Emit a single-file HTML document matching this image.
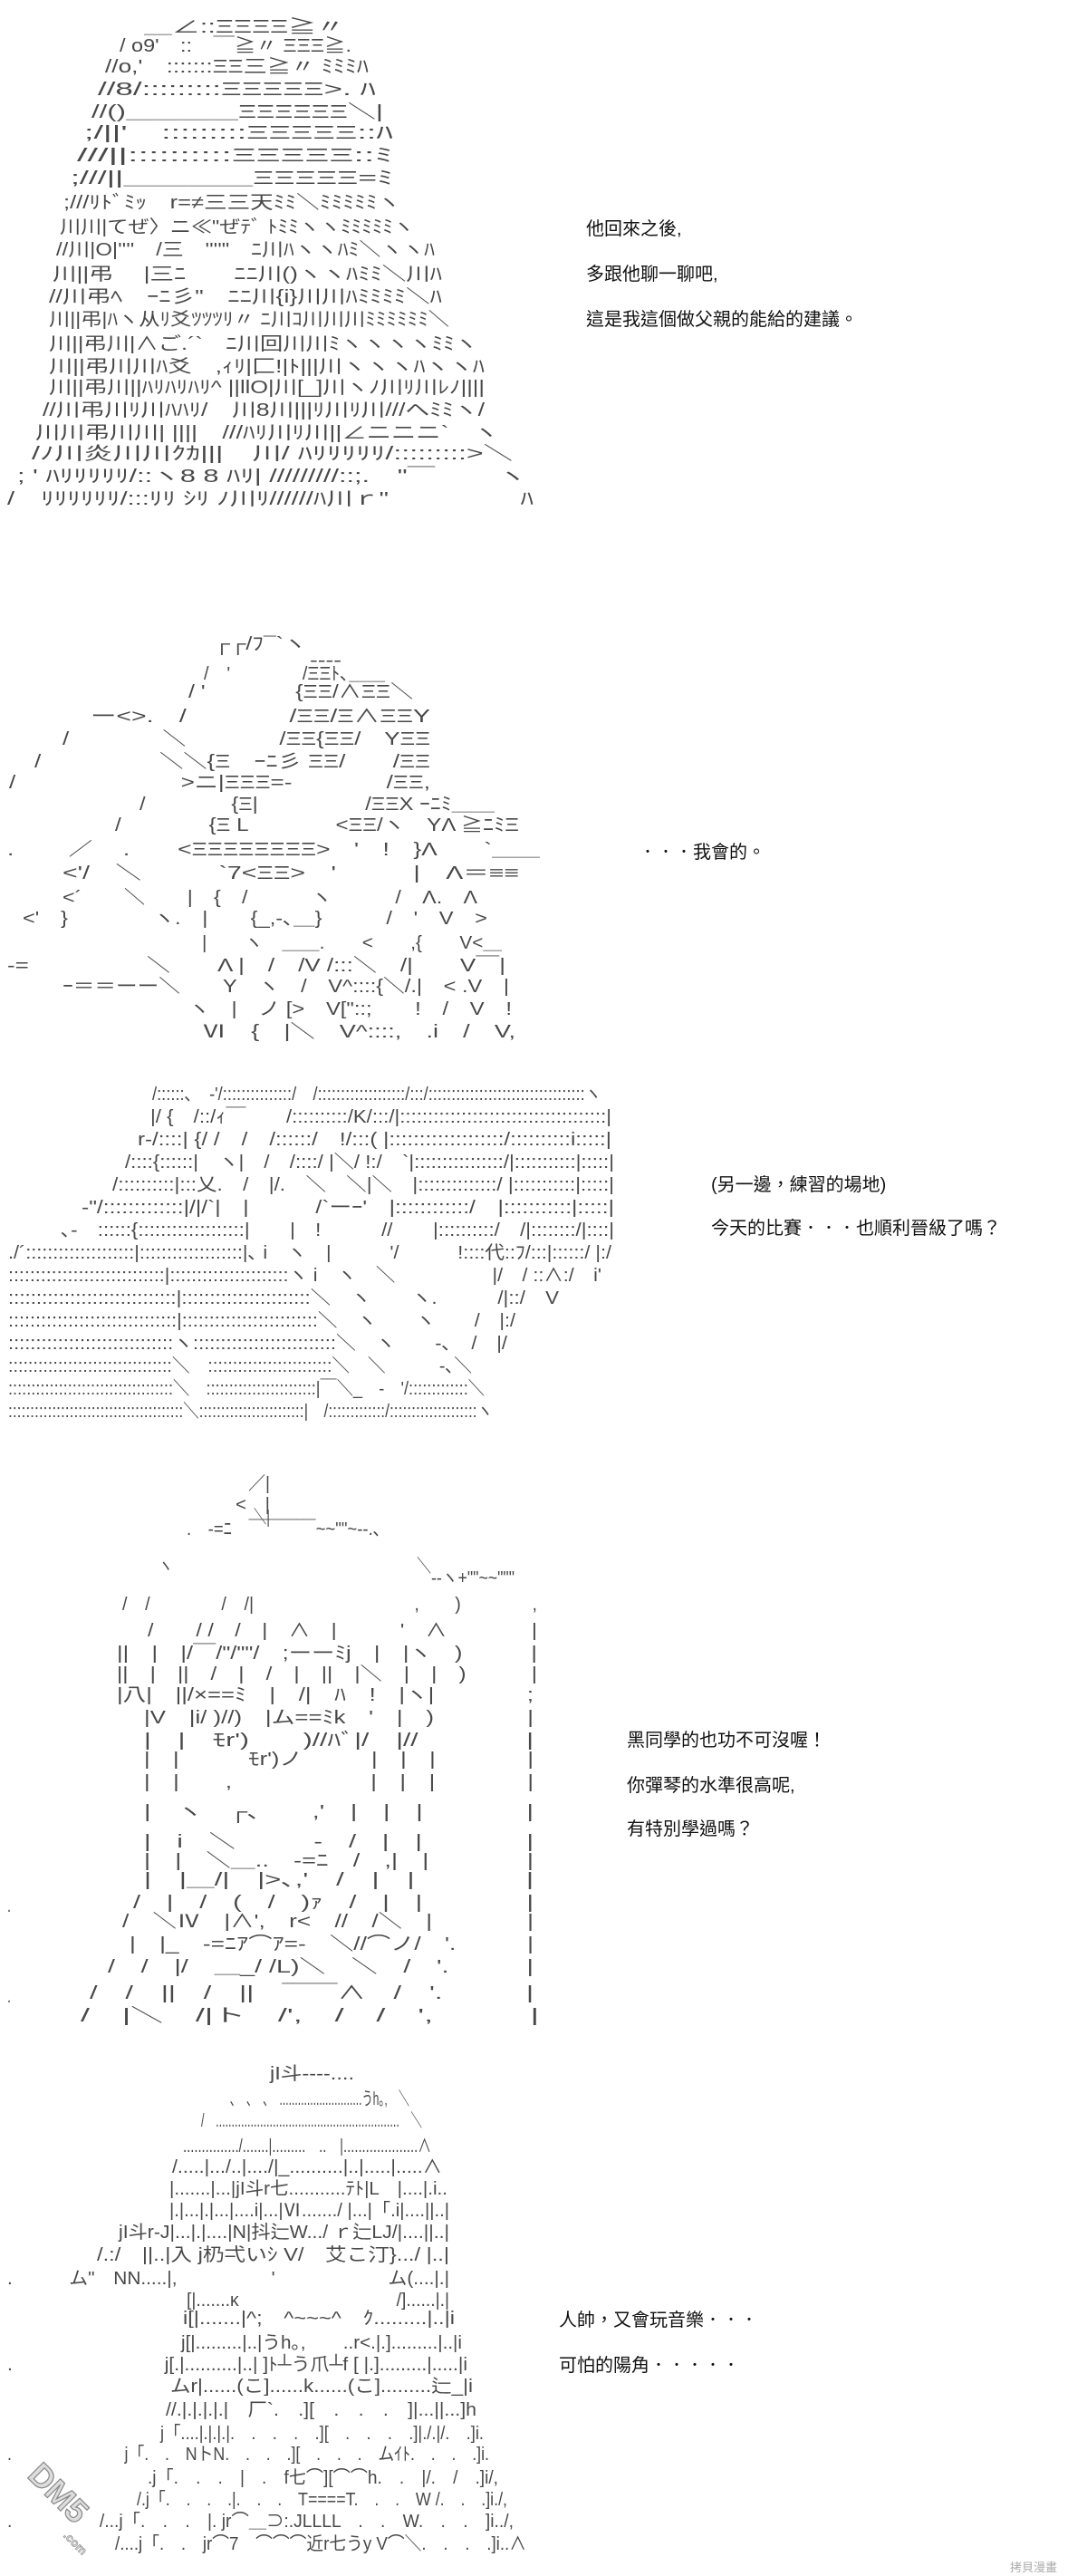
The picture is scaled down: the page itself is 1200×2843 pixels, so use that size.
<!DOCTYPE html>
<html><head><meta charset="utf-8">
<style>
html,body{margin:0;padding:0;background:#fff;}
svg{display:block;}
.a{font-family:"Liberation Sans","Noto Sans CJK JP",sans-serif;font-size:20px;fill:#484848;}
.t{font-family:"Liberation Sans","Noto Sans CJK TC",sans-serif;font-size:20px;fill:#111;}
</style></head>
<body>
<svg width="1200" height="2843" viewBox="0 0 1200 2843" xmlns="http://www.w3.org/2000/svg">
<g class="a" xml:space="preserve">
<!-- Panel 1 -->
<text x="159" y="36" textLength="221" lengthAdjust="spacingAndGlyphs">＿∠::ΞΞΞΞ≧〃</text>
<text x="132" y="57" textLength="256" lengthAdjust="spacingAndGlyphs">/ o9'　::　￣≧〃 ΞΞΞ≧.</text>
<text x="116" y="80" textLength="291" lengthAdjust="spacingAndGlyphs">//o,'　:::::::ΞΞ三≧〃 ﾐﾐﾐﾊ</text>
<text x="108" y="105" textLength="307" lengthAdjust="spacingAndGlyphs">//8/:::::::::ΞΞΞΞΞ>. ﾊ</text>
<text x="101" y="130" textLength="322" lengthAdjust="spacingAndGlyphs">//()＿＿＿＿ΞΞΞΞΞΞ＼|</text>
<text x="93" y="153" textLength="341" lengthAdjust="spacingAndGlyphs">;/||'　:::::::::ΞΞΞΞΞ::ﾊ</text>
<text x="85" y="178" textLength="349" lengthAdjust="spacingAndGlyphs">///||::::::::::ΞΞΞΞΞ::ﾐ</text>
<text x="78" y="203" textLength="356" lengthAdjust="spacingAndGlyphs">;///||＿＿＿＿ΞΞΞΞΞ=ﾐ</text>
<text x="70" y="230" textLength="372" lengthAdjust="spacingAndGlyphs">;///ﾘﾄﾞﾐｯ　r=≠三三天ﾐﾐ＼ﾐﾐﾐﾐﾐヽ</text>
<text x="66" y="257" textLength="391" lengthAdjust="spacingAndGlyphs">川川|てぜ〉ニ≪"ぜﾃﾞ ﾄﾐﾐヽヽﾐﾐﾐﾐﾐヽ</text>
<text x="62" y="282" textLength="418" lengthAdjust="spacingAndGlyphs">//川|O|''''　/三　''''"　ﾆ川ﾊヽヽﾊﾐ＼ヽヽﾊ</text>
<text x="58" y="309" textLength="430" lengthAdjust="spacingAndGlyphs">川||弔　 |三ﾆ　　ﾆﾆ川()ヽヽﾊﾐﾐ＼川ﾊ</text>
<text x="54" y="334" textLength="434" lengthAdjust="spacingAndGlyphs">//川弔ﾍ　ｰﾆ彡"　ﾆﾆ川{i}川川ﾊﾐﾐﾐﾐ＼ﾊ</text>
<text x="54" y="359" textLength="442" lengthAdjust="spacingAndGlyphs">川||弔|ﾊヽ从ﾘ爻ﾂﾂﾂﾘ〃 ﾆ川ｺ川川川ﾐﾐﾐﾐﾐﾐ＼</text>
<text x="54" y="386" textLength="473" lengthAdjust="spacingAndGlyphs">川||弔川|∧ご.´`　ﾆ川回川川ﾐヽヽヽヽﾐﾐヽ</text>
<text x="54" y="411" textLength="481" lengthAdjust="spacingAndGlyphs">川||弔川川ﾊ爻　,ｨﾘ|匚!|ﾄ|||川ヽヽヽﾊヽヽﾊ</text>
<text x="54" y="434" textLength="481" lengthAdjust="spacingAndGlyphs">川||弔川||ﾊﾘﾊﾘﾊﾘ^ ||llO|川[_]川ヽﾉ川ﾘ川ﾚﾉ||||</text>
<text x="47" y="459" textLength="488" lengthAdjust="spacingAndGlyphs">//川弔川ﾘ川ﾊﾊﾘ/　川8川|||ﾘ川ﾘ川///へﾐﾐヽ/</text>
<text x="39" y="484" textLength="511" lengthAdjust="spacingAndGlyphs">川川弔川川| ||||　///ﾊﾘ川ﾘ川||∠ニニニ`　ヽ</text>
<text x="35" y="507" textLength="531" lengthAdjust="spacingAndGlyphs">/ﾉ川炎川川ｸｶ|||　川/ ﾊﾘﾘﾘﾘﾘ/:::::::::>＼</text>
<text x="19" y="532" textLength="562" lengthAdjust="spacingAndGlyphs">; ' ﾊﾘﾘﾘﾘﾘ/::ヽ8 8 ﾊﾘ| /////////::;.　"￣　　 ヽ</text>
<text x="8" y="557" textLength="581" lengthAdjust="spacingAndGlyphs">/　ﾘﾘﾘﾘﾘﾘ/:::ﾘﾘ ｼﾘ ﾉ川ﾘ//////ﾊ川ｒ"　　　　　ﾊ</text>

<!-- Panel 2 -->
<text x="236" y="717" textLength="102" lengthAdjust="spacingAndGlyphs">┌┌/ﾌ¯`ヽ</text>
<text x="342" y="735" textLength="35" lengthAdjust="spacingAndGlyphs">----</text>
<text x="225" y="750" textLength="200" lengthAdjust="spacingAndGlyphs">/　'　　　　/ΞΞﾄ､＿＿</text>
<text x="208" y="770" textLength="248" lengthAdjust="spacingAndGlyphs">/ '　　　　{ΞΞ/∧ΞΞ＼</text>
<text x="100" y="797" textLength="375" lengthAdjust="spacingAndGlyphs">ー&lt;&gt;.　/　　　　/ΞΞ/Ξ∧ΞΞY</text>
<text x="69" y="822" textLength="406" lengthAdjust="spacingAndGlyphs">/　　　　＼　　　　/ΞΞ{ΞΞ/　YΞΞ</text>
<text x="38" y="847" textLength="437" lengthAdjust="spacingAndGlyphs">/　　　　　＼＼{Ξ　ｰﾆ彡 ΞΞ/　　/ΞΞ</text>
<text x="10" y="870" textLength="465" lengthAdjust="spacingAndGlyphs">/　　　　　　　>ニ|ΞΞΞ=-　　　　/ΞΞ,</text>
<text x="154" y="894" textLength="392" lengthAdjust="spacingAndGlyphs">/　　　　{Ξ|　　　　　/ΞΞX ｰﾆﾐ＿＿</text>
<text x="127" y="917" textLength="446" lengthAdjust="spacingAndGlyphs">/　　　　{Ξ L　　　　&lt;ΞΞ/ヽ　YΛ ≧ﾆﾐΞ</text>
<text x="8" y="944" textLength="588" lengthAdjust="spacingAndGlyphs">.　　 ／　 .　　&lt;ΞΞΞΞΞΞΞΞ>　'　!　}Λ　　`＿＿</text>
<text x="69" y="970" textLength="504" lengthAdjust="spacingAndGlyphs">&lt;'/　＼　　　`7&lt;ΞΞ>　'　　　|　Λ＝≡≡</text>
<text x="69" y="997" textLength="458" lengthAdjust="spacingAndGlyphs">&lt;´　　＼　　|　{　/　　　ヽ　　　/　Λ.　Λ</text>
<text x="25" y="1020" textLength="513" lengthAdjust="spacingAndGlyphs">&lt;'　}　　　　ヽ.　|　　{_,-､＿}　　　/　'　V　></text>
<text x="223" y="1047" textLength="331" lengthAdjust="spacingAndGlyphs">|　　ヽ　＿＿.　　&lt;　　,{　　V&lt;＿</text>
<text x="8" y="1072" textLength="550" lengthAdjust="spacingAndGlyphs">-=　　　　　＼　　Λ |　/　/V /:::＼　/|　　V￣|</text>
<text x="69" y="1095" textLength="493" lengthAdjust="spacingAndGlyphs">ｰ＝＝ーー＼　　Y　ヽ　/　V^::::{＼/.|　&lt; .V　|</text>
<text x="208" y="1120" textLength="357" lengthAdjust="spacingAndGlyphs">ヽ　|　ノ [>　V["::;　　!　/　V　!</text>
<text x="223" y="1145" textLength="346" lengthAdjust="spacingAndGlyphs">Ⅵ　{　|＼　V^::::,　.i　/　V,</text>

<!-- Panel 3 -->
<text x="168" y="1214" textLength="496" lengthAdjust="spacingAndGlyphs">/::::::､　-'/:::::::::::::::/　/:::::::::::::::::::/:::/::::::::::::::::::::::::::::::::::ヽ</text>
<text x="166" y="1239" textLength="509" lengthAdjust="spacingAndGlyphs">|/ {　/::/ｨ￣　　/::::::::::/K/:::/|:::::::::::::::::::::::::::::::::::::|</text>
<text x="152" y="1264" textLength="523" lengthAdjust="spacingAndGlyphs">r-/::::| {/ /　/　/::::::/　!/:::( |:::::::::::::::::::/::::::::::i:::::|</text>
<text x="138" y="1289" textLength="540" lengthAdjust="spacingAndGlyphs">/::::{::::::|　ヽ|　/　/::::/ |＼/ !:/　`|::::::::::::::::/|:::::::::::|:::::|</text>
<text x="124" y="1314" textLength="554" lengthAdjust="spacingAndGlyphs">/::::::::::|:::乂.　/　|/.　＼　＼|＼　|::::::::::::::/ |:::::::::::|:::::|</text>
<text x="90" y="1339" textLength="588" lengthAdjust="spacingAndGlyphs">-"/:::::::::::::|/|/`|　|　　　/`ーｰ'　|::::::::::::/　|:::::::::::|:::::|</text>
<text x="67" y="1364" textLength="611" lengthAdjust="spacingAndGlyphs">､-　::::::{:::::::::::::::::::|　　|　!　　　//　　|::::::::::/　/|::::::::/|::::|</text>
<text x="9" y="1389" textLength="666" lengthAdjust="spacingAndGlyphs">./´::::::::::::::::::::|:::::::::::::::::::|､ i　ヽ　|　　　'/　　　!::::代::ﾌ/:::|::::::/ |:/</text>
<text x="9" y="1414" textLength="655" lengthAdjust="spacingAndGlyphs">:::::::::::::::::::::::::::::|::::::::::::::::::::::ヽ i　ヽ　＼　　　　　|/　/ ::∧:/　i'</text>
<text x="9" y="1439" textLength="608" lengthAdjust="spacingAndGlyphs">::::::::::::::::::::::::::::::|:::::::::::::::::::::::＼　ヽ　　ヽ.　　　/|::/　V</text>
<text x="9" y="1464" textLength="560" lengthAdjust="spacingAndGlyphs">:::::::::::::::::::::::::::::::|:::::::::::::::::::::::::＼　ヽ　　ヽ　　/　|:/</text>
<text x="9" y="1489" textLength="551" lengthAdjust="spacingAndGlyphs">::::::::::::::::::::::::::::::ヽ::::::::::::::::::::::::::＼　ヽ　　-､　/　|/</text>
<text x="9" y="1514" textLength="512" lengthAdjust="spacingAndGlyphs">:::::::::::::::::::::::::::::::::＼　:::::::::::::::::::::::::＼　＼　　　-､＼</text>
<text x="9" y="1539" textLength="526" lengthAdjust="spacingAndGlyphs">::::::::::::::::::::::::::::::::::::＼　::::::::::::::::::::::::|￣＼_　-　'/:::::::::::::＼</text>
<text x="9" y="1564" textLength="535" lengthAdjust="spacingAndGlyphs">::::::::::::::::::::::::::::::::::::::::＼::::::::::::::::::::::::|　/:::::::::::::/::::::::::::::::::::ヽ</text>

<!-- Panel 4 -->
<text x="274" y="1644" textLength="24" lengthAdjust="spacingAndGlyphs">／|</text>
<text x="260" y="1667" textLength="38" lengthAdjust="spacingAndGlyphs">&lt;　|</text>
<text x="280" y="1681" textLength="18" lengthAdjust="spacingAndGlyphs">＼|</text>
<text x="206" y="1694" textLength="215" lengthAdjust="spacingAndGlyphs">.　-=ﾆ　￣￣￣￣~~""~-‐.､</text>
<text x="175" y="1735" textLength="301" lengthAdjust="spacingAndGlyphs">ヽ　　　　　　　　　　　　　　　　　＼</text>
<text x="476" y="1748" textLength="92" lengthAdjust="spacingAndGlyphs">--ヽ+""~~"""</text>
<text x="135" y="1777" textLength="458" lengthAdjust="spacingAndGlyphs">/　/　　　　/　/|　　　　　　　　　,　　)　　　　,</text>
<text x="163" y="1806" textLength="430" lengthAdjust="spacingAndGlyphs">/　　/ /　/　|　∧　|　　　'　∧　　　　|</text>
<text x="129" y="1831" textLength="464" lengthAdjust="spacingAndGlyphs">||　|　|/￣/"/""/　;ーーﾐj　|　|ヽ　)　　　|</text>
<text x="129" y="1854" textLength="464" lengthAdjust="spacingAndGlyphs">||　|　||　/　|　/　|　||　|＼　|　|　)　　　|</text>
<text x="129" y="1877" textLength="460" lengthAdjust="spacingAndGlyphs">|八|　||/×==ﾐ　|　/|　ﾊ　!　|ヽ|　　　　;</text>
<text x="159" y="1902" textLength="430" lengthAdjust="spacingAndGlyphs">|V　|i/ )//)　|ム==ﾐk　'　|　)　　　　|</text>
<text x="159" y="1927" textLength="430" lengthAdjust="spacingAndGlyphs">|　|　ﾓr')　　)//ﾊﾞ|/　|//　　　　|</text>
<text x="159" y="1948" textLength="430" lengthAdjust="spacingAndGlyphs">|　|　　　ﾓr')ノ　　　|　|　|　　　　|</text>
<text x="159" y="1973" textLength="430" lengthAdjust="spacingAndGlyphs">|　|　　,　　　　　　|　|　|　　　　|</text>
<text x="159" y="2006" textLength="430" lengthAdjust="spacingAndGlyphs">|　ヽ　┌､　　,'　|　|　|　　　　|</text>
<text x="159" y="2039" textLength="430" lengthAdjust="spacingAndGlyphs">|　i　＼　　　-　/　|　|　　　　|</text>
<text x="159" y="2060" textLength="430" lengthAdjust="spacingAndGlyphs">|　|　＼＿..　-=ﾆ　/　,|　|　　　　|</text>
<text x="159" y="2081" textLength="430" lengthAdjust="spacingAndGlyphs">|　|＿/|　|>､,'　/　|　|　　　　|</text>
<text x="147" y="2106" textLength="442" lengthAdjust="spacingAndGlyphs">/　|　/　(　/　)ｧ　/　|　|　　　　|</text>
<text x="8" y="2110" textLength="4" lengthAdjust="spacingAndGlyphs">.</text>
<text x="135" y="2127" textLength="454" lengthAdjust="spacingAndGlyphs">/　＼Ⅳ　|∧',　r&lt;　//　/＼　|　　　　|</text>
<text x="143" y="2152" textLength="446" lengthAdjust="spacingAndGlyphs">|　|_　-=ﾆｱ⌒ｱ=-　＼//⌒ノ/　'.　　　|</text>
<text x="119" y="2177" textLength="470" lengthAdjust="spacingAndGlyphs">/　/　|/　＿_/ /L)＼　＼　/　'.　　　|</text>
<text x="99" y="2206" textLength="490" lengthAdjust="spacingAndGlyphs">/　/　||　/　||　￣￣∧　/　'.　　　|</text>
<text x="8" y="2210" textLength="4" lengthAdjust="spacingAndGlyphs">.</text>
<text x="89" y="2231" textLength="506" lengthAdjust="spacingAndGlyphs">/　|＼　/|ト　/',　/　/　',　　　|</text>

<!-- Panel 5 -->
<text x="298" y="2295" textLength="93" lengthAdjust="spacingAndGlyphs">jI斗----....</text>
<text x="254" y="2323" textLength="198" lengthAdjust="spacingAndGlyphs">､　､　､　...........................うh｡,　＼</text>
<text x="222" y="2347" textLength="244" lengthAdjust="spacingAndGlyphs">/　..........................................................　＼</text>
<text x="202" y="2375" textLength="274" lengthAdjust="spacingAndGlyphs">.............../.......|.........　..　|....................∧</text>
<text x="190" y="2398" textLength="298" lengthAdjust="spacingAndGlyphs">/.....|.../..|..../|_..........|..|.....|.....∧</text>
<text x="187" y="2422" textLength="307" lengthAdjust="spacingAndGlyphs">|.......|...|jI斗r七...........ﾃﾄ|L　|....|.i..</text>
<text x="187" y="2446" textLength="309" lengthAdjust="spacingAndGlyphs">|.|...|.|...|....i|...|Ⅵ......./ |...|「.i|....||..|</text>
<text x="131" y="2470" textLength="365" lengthAdjust="spacingAndGlyphs">jI斗r-J|...|.|....|N|抖辷W.../ ｒ辷LJ/|....||..|</text>
<text x="107" y="2495" textLength="389" lengthAdjust="spacingAndGlyphs">/.:/　||..|入 j㭁弌いｼ V/　艾こ汀}.../ |..|</text>
<text x="8" y="2521" textLength="488" lengthAdjust="spacingAndGlyphs">.　　　ム"　NN.....|,　　　　　'　　　　　　ム(....|.|</text>
<text x="206" y="2545" textLength="290" lengthAdjust="spacingAndGlyphs">[|.......κ　　　　　　　　　/]......|.|</text>
<text x="202" y="2565" textLength="300" lengthAdjust="spacingAndGlyphs">i[|.......|^;　^~~~^　ｸ.........|..|i</text>
<text x="200" y="2592" textLength="310" lengthAdjust="spacingAndGlyphs">j[|.........|..|うh｡,　　..r&lt;.|.].........|..|i</text>
<text x="8" y="2616" textLength="508" lengthAdjust="spacingAndGlyphs">.　　　　　　　　j[.|..........|..| ]ﾄ┴う爪┴f [ |.].........|.....|i</text>
<text x="188" y="2640" textLength="334" lengthAdjust="spacingAndGlyphs">ムr|......(こ]......k......(こ].........辷_|i</text>
<text x="183" y="2666" textLength="343" lengthAdjust="spacingAndGlyphs">//.|.|.|.|.|　厂`.　.][　.　.　.　]|...||...]h</text>
<text x="177" y="2692" textLength="357" lengthAdjust="spacingAndGlyphs">j「....|.|.|.|.　.　.　.　.][　.　.　.　.]|./.|/.　.]i.</text>
<text x="8" y="2715" textLength="532" lengthAdjust="spacingAndGlyphs">.　　　　　　　j「.　.　NトN.　.　.　.][　.　.　.　ムｲﾄ.　.　.　.]i.</text>
<text x="163" y="2741" textLength="387" lengthAdjust="spacingAndGlyphs">.j「.　.　.　|　.　f七⌒][⌒⌒h.　.　|/.　/　.]i/,</text>
<text x="151" y="2765" textLength="409" lengthAdjust="spacingAndGlyphs">/.j「.　.　.　.|.　.　.　T====T.　.　.　W /.　.　.]i./,</text>
<text x="8" y="2789" textLength="559" lengthAdjust="spacingAndGlyphs">.　　　　　/...j「.　.　.　|. jr⌒＿⊃:.JLLLL　.　.　W.　.　.　]i../,</text>
<text x="127" y="2814" textLength="454" lengthAdjust="spacingAndGlyphs">/....j「.　.　jr⌒7　⌒⌒⌒近r七うy V⌒＼.　.　.　.]i..∧</text>
</g>

<!-- Dialogue text -->
<g class="t">
<text x="647" y="259">他回來之後,</text>
<text x="647" y="309">多跟他聊一聊吧,</text>
<text x="647" y="359">這是我這個做父親的能給的建議。</text>
<text x="705" y="947">．．．我會的。</text>
<text x="785" y="1314">(另一邊，練習的場地)</text>
<text x="785" y="1362">今天的比賽．．．也順利晉級了嗎？</text>
<text x="692" y="1927">黑同學的也功不可沒喔！</text>
<text x="692" y="1977">你彈琴的水準很高呢,</text>
<text x="692" y="2025">有特別學過嗎？</text>
<text x="617" y="2567">人帥，又會玩音樂．．．</text>
<text x="617" y="2617">可怕的陽角．．．．．</text>
</g>

<!-- Watermarks -->
<g transform="translate(75,2765) rotate(45)">
<text x="-55" y="10" font-family="Liberation Sans, sans-serif" font-size="36" font-weight="bold" fill="#ddd" stroke="#888" stroke-width="1.2">DM5</text>
<text x="20" y="28" font-family="Liberation Sans, sans-serif" font-size="13" font-weight="bold" fill="#ddd" stroke="#888" stroke-width="0.6">.com</text>
</g>
<text x="1115" y="2838" font-family="Liberation Sans, 'Noto Sans CJK TC', sans-serif" font-size="13" fill="#aaa">拷貝漫畫</text>
</svg>
</body></html>
